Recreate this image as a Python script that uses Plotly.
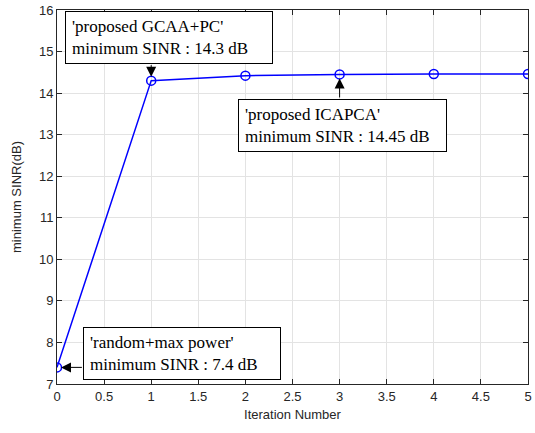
import plotly.graph_objects as go

iterations = [0, 1, 2, 3, 4, 5]
min_sinr = [7.4, 14.3, 14.42, 14.45, 14.46, 14.46]

x_ticks = [0, 0.5, 1, 1.5, 2, 2.5, 3, 3.5, 4, 4.5, 5]
y_ticks = [7, 8, 9, 10, 11, 12, 13, 14, 15, 16]

ann_texts = [
    "'proposed GCAA+PC'<br>minimum SINR : 14.3 dB",
    "'proposed ICAPCA'<br>minimum SINR : 14.45 dB",
    "'random+max power'<br>minimum SINR : 7.4 dB",
]

fig = go.Figure()
fig.add_trace(go.Scatter(
    x=iterations, y=min_sinr, mode="lines+markers",
    line=dict(color="#0000ff", width=1.5),
    marker=dict(symbol="circle-open", size=9, color="#0000ff", line=dict(width=1.5)),
    showlegend=False,
))

sans = "Liberation Sans"
axis_common = dict(
    showgrid=True, gridcolor="#e3e3e3", gridwidth=1,
    showline=True, linecolor="#262626", linewidth=1, mirror="ticks",
    ticks="inside", ticklen=5, tickcolor="#262626",
    tickfont=dict(family=sans, size=13, color="#262626"),
    zeroline=False,
)
fig.update_xaxes(range=[0, 5], tickvals=x_ticks, ticktext=[f"{v:g}" for v in x_ticks],
                 title=dict(text="Iteration Number", font=dict(family=sans, size=13, color="#262626"), standoff=7),
                 **axis_common)
fig.update_yaxes(range=[7, 16], tickvals=y_ticks,
                 title=dict(text="minimum SINR(dB)", font=dict(family=sans, size=13, color="#262626"), standoff=14),
                 **axis_common)

box_font = dict(family="Liberation Serif", size=17, color="black")
box_common = dict(xref="x", yref="y", showarrow=False, align="left",
                  bordercolor="black", borderwidth=1, borderpad=6, bgcolor="white",
                  font=box_font, xanchor="left", yanchor="top")

# text boxes
fig.add_annotation(x=0.09, y=15.975, text=ann_texts[0], width=194, height=39, **box_common)
fig.add_annotation(x=1.92, y=13.86, text=ann_texts[1], width=195, height=39, **box_common)
fig.add_annotation(x=0.28, y=8.36, text=ann_texts[2], width=184, height=39, **box_common)

# arrows
arrow_common = dict(xref="x", yref="y", axref="x", ayref="y", text="", showarrow=True,
                    arrowhead=2, arrowsize=2, arrowwidth=1, arrowcolor="black")
fig.add_annotation(x=iterations[1], y=min_sinr[1], ax=1, ay=14.71, standoff=4, **arrow_common)
fig.add_annotation(x=iterations[3], y=min_sinr[3], ax=3, ay=13.86, standoff=4, **arrow_common)
fig.add_annotation(x=iterations[0], y=min_sinr[0], ax=0.28, ay=7.4, standoff=4, **arrow_common)

fig.update_layout(
    width=535, height=433,
    margin=dict(l=57, r=3, t=8, b=49),
    plot_bgcolor="white", paper_bgcolor="white",
)
fig.write_html("out.html")
